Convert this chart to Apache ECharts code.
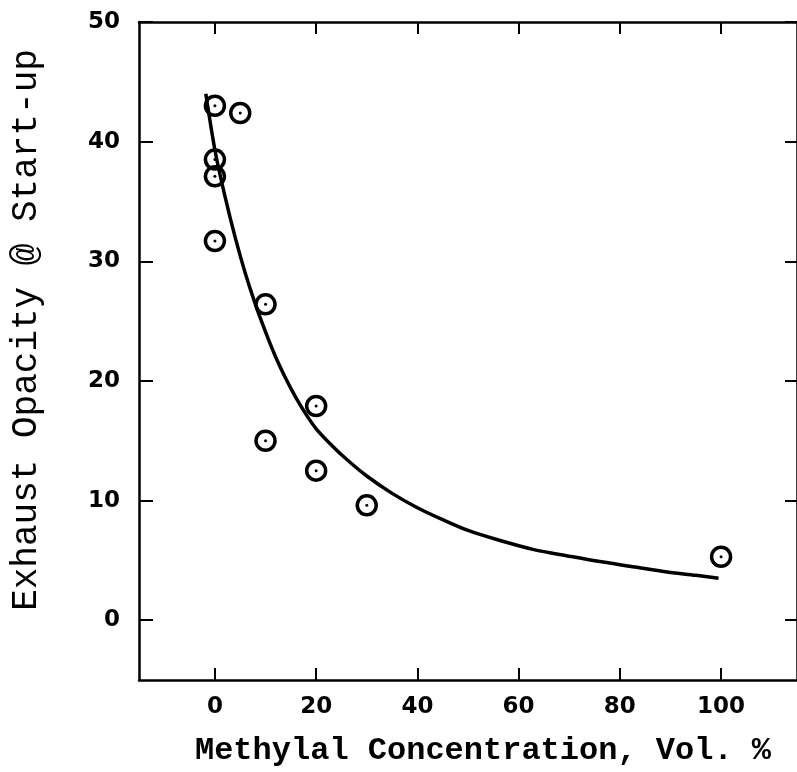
<!DOCTYPE html>
<html>
<head>
<meta charset="utf-8">
<script src="https://cdn.jsdelivr.net/npm/echarts@6/dist/echarts.min.js"></script>
<style>
html,body{margin:0;padding:0;background:#fff;}
#chart{width:797px;height:772px;}
</style>
</head>
<body>
<div id="chart"></div>
<script>
// Observed data points (Methylal %, exhaust opacity)
var pointX = [0, 5, 0, 0, 0, 10, 20, 10, 20, 30, 100];
var pointY = [43.0, 42.4, 38.5, 37.1, 31.7, 26.4, 17.9, 15.0, 12.5, 9.6, 5.3];

// Fitted curve
var curveX = [-1.8, 0, 2, 4, 6, 8, 10, 12, 14, 16, 18, 20, 23, 26, 30, 35, 40, 45, 50, 56, 63, 70, 76, 83, 89, 95, 99.5];
var curveY = [44.0, 39.3, 35.4, 32.0, 29.0, 26.4, 24.1, 22.0, 20.2, 18.6, 17.2, 16.0, 14.65, 13.45, 12.05, 10.6, 9.4, 8.4, 7.5, 6.7, 5.9, 5.35, 4.9, 4.45, 4.05, 3.75, 3.5];

// Tick labels
var xTicks = [0, 20, 40, 60, 80, 100];
var yTicks = [0, 10, 20, 30, 40, 50];

var xTitle = 'Methylal Concentration, Vol. %';
var yTitle = 'Exhaust Opacity @ Start-up';

var pts = pointX.map(function (x, i) { return [x, pointY[i]]; });
var curve = curveX.map(function (x, i) { return [x, curveY[i]]; });

var lineStyle = { color: '#000', width: 2.5 };
var labelFont = { fontFamily: 'DejaVu Sans', fontWeight: 'bold', fontSize: 23, color: '#000' };

var chart = echarts.init(document.getElementById('chart'));
chart.setOption({
  backgroundColor: '#fff',
  animation: false,
  grid: { left: 137, top: 22, width: 663, height: 659, containLabel: false },
  xAxis: [{
    type: 'value', min: -15, max: 115, position: 'bottom',
    axisLine: { show: true, onZero: false, lineStyle: lineStyle },
    axisTick: { show: true, inside: true, length: 12, customValues: xTicks, lineStyle: { color: '#000', width: 2 } },
    axisLabel: Object.assign({ customValues: xTicks, margin: 16 }, labelFont),
    splitLine: { show: false },
    name: xTitle, nameLocation: 'middle', nameGap: 55,
    nameTextStyle: { fontFamily: 'Liberation Mono', fontWeight: 'bold', fontSize: 32, color: '#000', padding: [0, 0, 0, 30] }
  }, {
    type: 'value', min: -15, max: 115, position: 'top',
    axisLine: { show: true, onZero: false, lineStyle: lineStyle },
    axisTick: { show: true, inside: true, length: 12, customValues: xTicks, lineStyle: { color: '#000', width: 2 } },
    axisLabel: { show: false },
    splitLine: { show: false }
  }],
  yAxis: [{
    type: 'value', min: -5, max: 50, position: 'left',
    axisLine: { show: true, onZero: false, lineStyle: lineStyle },
    axisTick: { show: true, inside: true, length: 14, customValues: yTicks, lineStyle: { color: '#000', width: 2 } },
    axisLabel: Object.assign({ customValues: yTicks, margin: 19 }, labelFont),
    splitLine: { show: false },
    name: yTitle, nameLocation: 'middle', nameGap: 95,
    nameTextStyle: { fontFamily: 'Liberation Mono', fontSize: 36, color: '#000', padding: [0, 0, 0, 42] }
  }, {
    type: 'value', min: -5, max: 50, position: 'right',
    axisLine: { show: true, onZero: false, lineStyle: lineStyle },
    axisTick: { show: true, inside: true, length: 12, customValues: yTicks, lineStyle: { color: '#000', width: 2 } },
    axisLabel: { show: false },
    splitLine: { show: false }
  }],
  series: [{
    type: 'line', data: curve, smooth: 0.3, showSymbol: false, symbol: 'none',
    lineStyle: { color: '#000', width: 3.5 }, z: 2
  }, {
    type: 'scatter', data: pts, symbol: 'circle', symbolSize: 19,
    itemStyle: { color: 'rgba(255,255,255,0)', borderColor: '#000', borderWidth: 3.5, opacity: 1 }, z: 3
  }, {
    type: 'scatter', data: pts, symbol: 'circle', symbolSize: 3,
    itemStyle: { color: '#000', opacity: 1 }, z: 4
  }]
});
</script>
</body>
</html>
